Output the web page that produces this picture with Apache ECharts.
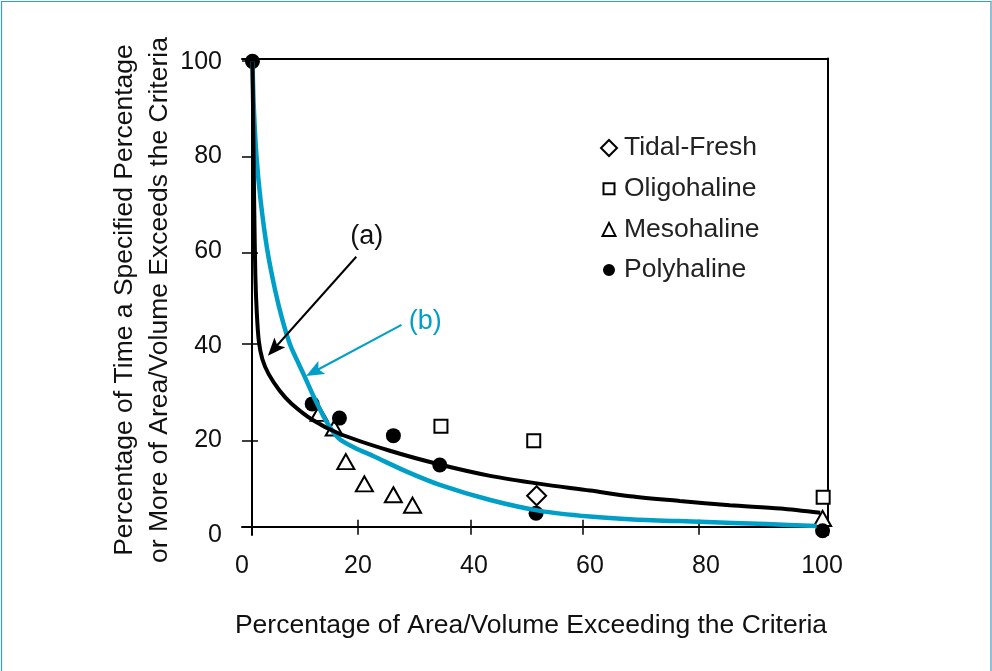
<!DOCTYPE html>
<html>
<head>
<meta charset="utf-8">
<script src="https://cdn.jsdelivr.net/npm/echarts@6/dist/echarts.min.js"></script>
<style>
html,body{margin:0;padding:0;background:#fff;}
#chart{width:992px;height:671px;}
</style>
</head>
<body>
<div id="chart"></div>
<script>
// ---- data ----
const tidalFresh = [[50.8, 8.3]];
const oligohaline = [[34.3, 23.0], [50.3, 19.9], [100.2, 8.0]];
const mesohaline = [[13.3, 25.7], [15.9, 22.6], [17.9, 15.5], [21.1, 10.8], [26.1, 8.5], [29.4, 6.3], [100.1, 3.5]];
const polyhaline = [[1.8, 100.1], [12.1, 27.7], [16.8, 24.7], [26.1, 21.0], [34.1, 14.8], [50.7, 4.6], [100.1, 0.9]];

const curveA = [[1.8, 100], [1.95, 85], [2.1, 70], [2.3, 55], [2.55, 47], [2.9, 41], [3.5, 37.2], [4.6, 34.0], [6.5, 30.5], [8.5, 27.8], [12.2, 24.3], [16.8, 21.4], [25.5, 17.8], [34.1, 14.9], [42.8, 12.5], [51.4, 10.8], [60, 9.4], [66.9, 8.2], [75.5, 7.2], [84.1, 6.3], [92.8, 5.6], [99.7, 4.7]];
const curveB = [[1.8, 100], [2.05, 90], [2.5, 80], [3.2, 70.8], [4.35, 60.3], [5.7, 51.8], [7.0, 45.3], [8.3, 40.2], [9.5, 36.9], [10.8, 33.5], [12.0, 30.2], [13.3, 26.9], [14.5, 24.1], [15.7, 21.8], [17.0, 20.1], [19.5, 18.4], [22.6, 16.7], [28.4, 13.4], [34.1, 10.6], [42.8, 7.4], [51.4, 5.1], [60, 3.9], [67.5, 3.3], [79, 2.8], [90.5, 2.3], [99.1, 1.9]];

const arrowA = [[19.7, 58.8], [5.5, 39.3]];
const arrowB = [[27.5, 44.4], [12.4, 34.5]];
const labelA = [21.5, 63.1];
const labelB = [31.6, 45.1];

const xLabelValues = [0, 20, 40, 60, 80, 100];
const xTickValues = [1.75, 20, 39.5, 58.7, 78.8];
const yLabelValues = [0, 20, 40, 60, 80, 100];
const yTickValues = [1.75, 20, 40.4, 59.6, 80, 100.3];

const legendNames = ['Tidal-Fresh', 'Oligohaline', 'Mesohaline', 'Polyhaline'];
const xTitle = 'Percentage of Area/Volume Exceeding the Criteria';
const yTitle1 = 'Percentage of Time a Specified Percentage';
const yTitle2 = 'or More of Area/Volume Exceeds the Criteria';

// ---- chart ----
const FONT = '"Liberation Sans", Arial, sans-serif';
const BLUE = '#009fc8';
const arrowPath = 'path://M0,8 L0,8.01 M16,8 L16,8.01 M8,0 L14.5,16 L8,12.5 L1.5,16 Z';
const smallSquare = 'path://M-2.5,-2.5 L-2.5,-2.49 M13.5,13.5 L13.5,13.49 M0,0 L11,0 L11,11 L0,11 Z';
const smallCircle = 'path://M-2,-2 L-2,-1.99 M14,14 L14,13.99 M6,0 A6,6 0 1,1 5.99,0 Z';
const smallTriangle = 'path://M-1.5,-1.5 L-1.5,-1.49 M14.5,14.5 L14.5,14.49 M6.5,0 L13,13 L0,13 Z';

const chart = echarts.init(document.getElementById('chart'), null, {renderer: 'canvas'});

const xCommon = {type: 'value', min: 0, max: 101, splitLine: {show: false}};
const yCommon = {type: 'value', min: 0, max: 100.7, splitLine: {show: false}};

const option = {
  animation: false,
  backgroundColor: '#fff',
  textStyle: {fontFamily: FONT},
  grid: {left: 242, right: 164.2, top: 58.5, bottom: 136, containLabel: false},
  xAxis: [
    Object.assign({}, xCommon, {
      position: 'bottom', offset: -8.3,
      axisLine: {show: true, onZero: false, lineStyle: {color: '#000', width: 2}},
      axisTick: {show: true, inside: false, length: 8, customValues: xTickValues, lineStyle: {color: '#000', width: 1.5}},
      axisLabel: {show: true, customValues: xLabelValues, margin: 27, fontSize: 25, color: '#111', fontFamily: FONT}
    }),
    Object.assign({}, xCommon, {
      position: 'bottom', offset: -8.3,
      axisLine: {show: false, onZero: false},
      axisTick: {show: true, inside: true, length: 7, customValues: xTickValues, lineStyle: {color: '#000', width: 1.5}},
      axisLabel: {show: false}
    }),
    Object.assign({}, xCommon, {
      position: 'top',
      axisLine: {show: true, onZero: false, lineStyle: {color: '#000', width: 2}},
      axisTick: {show: false}, axisLabel: {show: false}
    })
  ],
  yAxis: [
    Object.assign({}, yCommon, {
      position: 'left', offset: -10,
      axisLine: {show: true, onZero: false, lineStyle: {color: '#000', width: 2}},
      axisTick: {show: true, inside: false, length: 10, customValues: yTickValues, lineStyle: {color: '#000', width: 1.5}},
      axisLabel: {show: true, customValues: yLabelValues, margin: 30, fontSize: 25, color: '#111', fontFamily: FONT}
    }),
    Object.assign({}, yCommon, {
      position: 'left', offset: -10,
      axisLine: {show: false, onZero: false},
      axisTick: {show: true, inside: true, length: 6, customValues: yTickValues, lineStyle: {color: '#000', width: 1.5}},
      axisLabel: {show: false}
    }),
    Object.assign({}, yCommon, {
      position: 'right',
      axisLine: {show: true, onZero: false, lineStyle: {color: '#000', width: 2}},
      axisTick: {show: false}, axisLabel: {show: false}
    })
  ],
  legend: {
    data: [
      {name: legendNames[0]},
      {name: legendNames[1], icon: smallSquare},
      {name: legendNames[2], icon: smallTriangle},
      {name: legendNames[3], icon: smallCircle}
    ],
    orient: 'vertical',
    left: 595, top: 128,
    itemWidth: 16, itemHeight: 16, itemGap: 10.7,
    selectedMode: false,
    textStyle: {fontSize: 26.5, lineHeight: 30, color: '#222', fontFamily: FONT, padding: [0, 0, 0, 2]}
  },
  graphic: [
    {type: 'rect', silent: true, shape: {x: 1.5, y: 1.5, width: 989.5, height: 720},
     style: {fill: 'none', stroke: '#3a9bc5', lineWidth: 1.2}},
    {type: 'text', silent: true, x: 531, y: 626,
     style: {text: xTitle, fontSize: 26.5, fontFamily: FONT, fill: '#111', align: 'center', verticalAlign: 'middle'}},
    {type: 'text', silent: true, x: 142.5, y: 300, rotation: Math.PI / 2,
     style: {text: yTitle1 + '\n' + yTitle2, fontSize: 26.5, lineHeight: 35, fontFamily: FONT, fill: '#111', align: 'center', verticalAlign: 'middle'}}
  ],
  series: [
    {
      name: 'b', type: 'line', data: curveB, smooth: 0.3, showSymbol: false, symbol: 'none', silent: true,
      lineStyle: {color: BLUE, width: 4.5}, emphasis: {disabled: true},
      markLine: {
        silent: true, symbol: ['none', arrowPath], symbolSize: 18, animation: false,
        label: {show: false},
        lineStyle: {color: BLUE, width: 2, type: 'solid'},
        itemStyle: {color: BLUE},
        emphasis: {disabled: true},
        data: [[{coord: arrowB[0]}, {coord: arrowB[1]}]]
      },
      markPoint: {
        silent: true, symbol: 'circle', symbolSize: 0,
        label: {show: true, position: 'inside', formatter: '(b)', fontSize: 27, color: BLUE, fontFamily: FONT},
        data: [{coord: labelB}]
      }
    },
    {
      name: 'a', type: 'line', data: curveA, smooth: 0.3, showSymbol: false, symbol: 'none', silent: true,
      lineStyle: {color: '#000', width: 4}, emphasis: {disabled: true},
      markLine: {
        silent: true, symbol: ['none', arrowPath], symbolSize: 18, animation: false,
        label: {show: false},
        lineStyle: {color: '#000', width: 2, type: 'solid'},
        itemStyle: {color: '#000'},
        emphasis: {disabled: true},
        data: [[{coord: arrowA[0]}, {coord: arrowA[1]}]]
      },
      markPoint: {
        silent: true, symbol: 'circle', symbolSize: 0,
        label: {show: true, position: 'inside', formatter: '(a)', fontSize: 27, color: '#111', fontFamily: FONT},
        data: [{coord: labelA}]
      }
    },
    {
      name: 'Tidal-Fresh', type: 'scatter', data: tidalFresh, symbol: 'diamond', symbolSize: [19, 19],
      itemStyle: {color: '#fff', borderColor: '#000', borderWidth: 2, opacity: 1}, emphasis: {disabled: true}
    },
    {
      name: 'Oligohaline', type: 'scatter', data: oligohaline, symbol: 'rect', symbolSize: 13,
      itemStyle: {color: '#fff', borderColor: '#000', borderWidth: 2, opacity: 1}, emphasis: {disabled: true}
    },
    {
      name: 'Mesohaline', type: 'scatter', data: mesohaline, symbol: 'triangle', symbolSize: [17, 15],
      itemStyle: {color: '#fff', borderColor: '#000', borderWidth: 2, opacity: 1}, emphasis: {disabled: true}
    },
    {
      name: 'Polyhaline', type: 'scatter', data: polyhaline, symbol: 'circle', symbolSize: 15,
      itemStyle: {color: '#000', borderColor: '#000', borderWidth: 0, opacity: 1}, emphasis: {disabled: true}
    }
  ]
};
chart.setOption(option);
</script>
</body>
</html>
